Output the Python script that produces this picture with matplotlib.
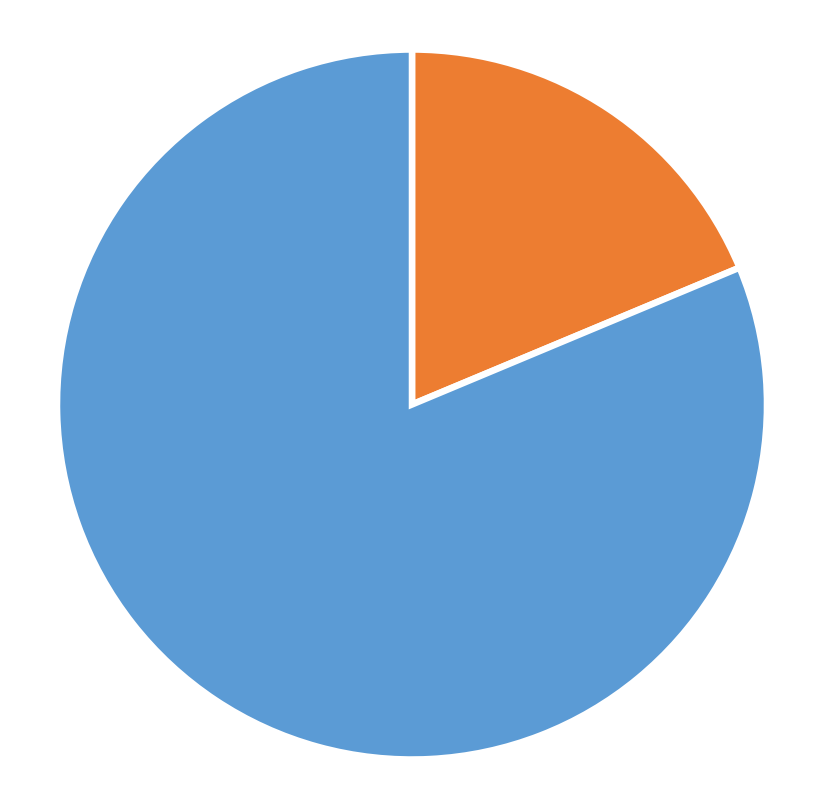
import matplotlib
matplotlib.use("Agg")
import matplotlib.pyplot as plt

# slice values (share of the whole)
labels = ["Part A", "Part B"]
values = [18.7, 81.3]
colors = ["#ED7D31", "#5B9BD5"]

W, H = 825, 812
fig = plt.figure(figsize=(W / 100, H / 100), dpi=100)

# pie centre ~ (412, 405.5) px, visible radius ~ 352 px plus half the white edge
cx, cy, r = 412, 405.5, 355
ax = fig.add_axes([(cx - r) / W, (H - cy - r) / H, 2 * r / W, 2 * r / H])
ax.pie(values, colors=colors, startangle=90, counterclock=False,
       wedgeprops=dict(edgecolor="white", linewidth=4.7, joinstyle="miter"))
ax.set_xlim(-1, 1)
ax.set_ylim(-1, 1)
ax.set_aspect("equal")
ax.axis("off")

fig.savefig("out.png", dpi=100, facecolor="white")
